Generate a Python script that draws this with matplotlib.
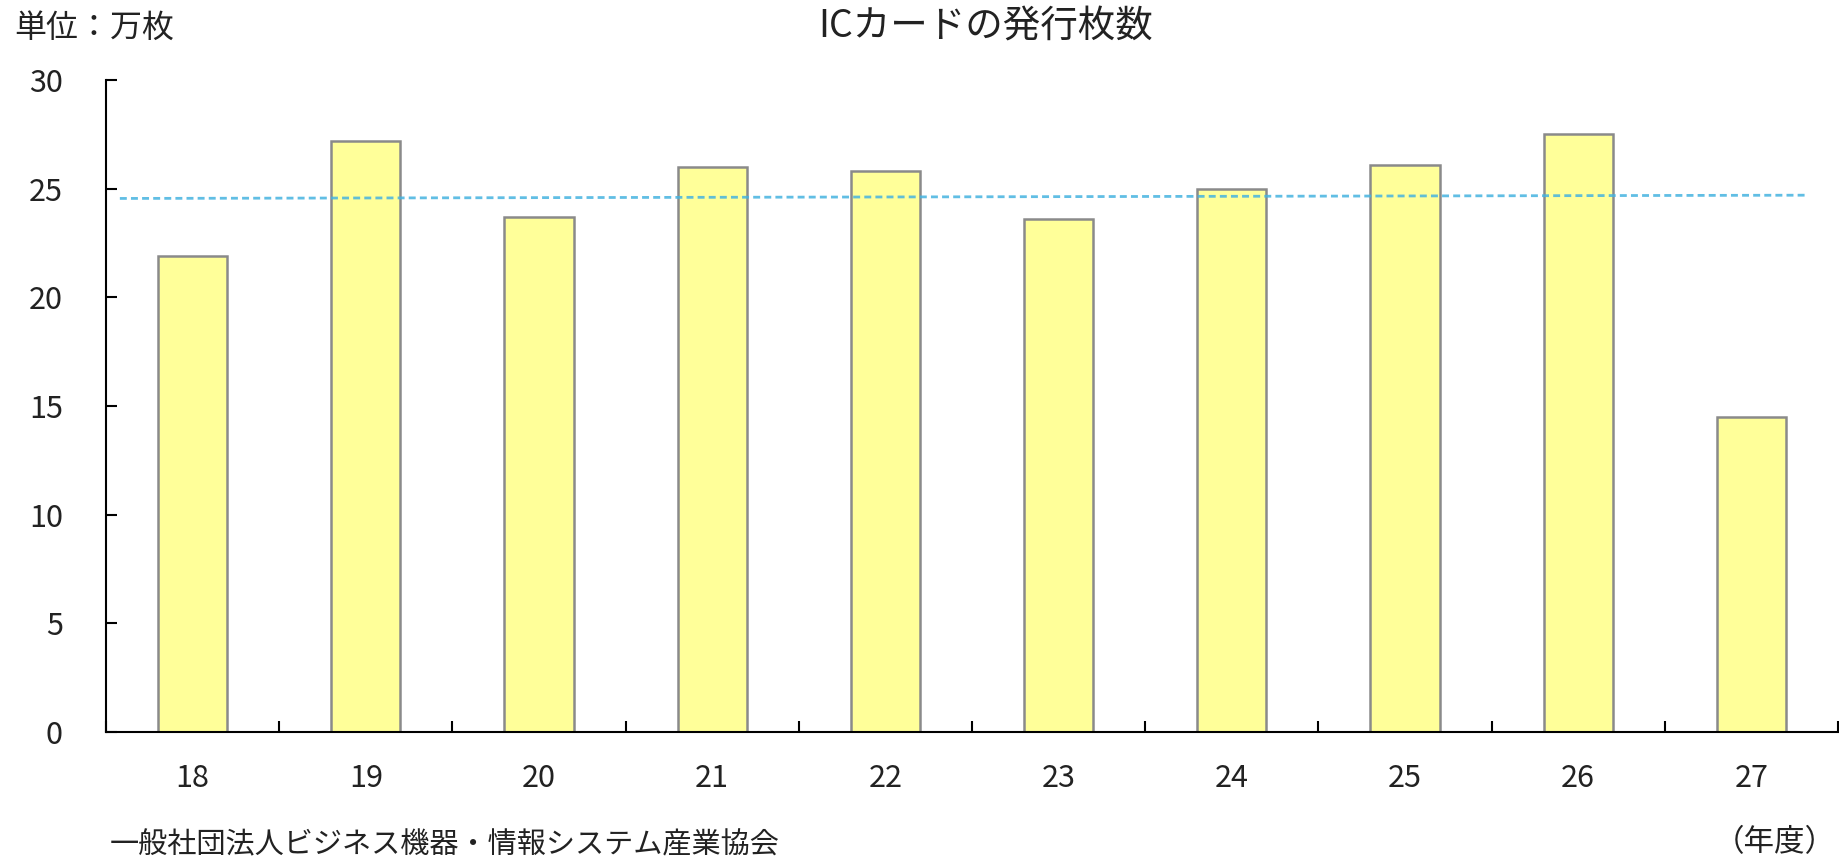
import matplotlib
matplotlib.use('Agg')
import matplotlib.pyplot as plt
import numpy as np

plt.rcParams['font.family'] = ['Noto Sans CJK JP', 'DejaVu Sans']

# data
years = ['18', '19', '20', '21', '22', '23', '24', '25', '26', '27']
cards = [21.9, 27.2, 23.7, 26.0, 25.8, 23.6, 25.0, 26.1, 27.5, 14.5]

# the thin dotted reference line (start / end)
ref_x = [-0.42, 9.33]
ref_y = [24.55, 24.70]

fig = plt.figure(figsize=(18.39, 8.59), dpi=100)
ax = fig.add_axes([106 / 1839, 127 / 859, 1732 / 1839, 652 / 859])

x = np.arange(len(years))
ax.bar(x, cards, width=0.4, color='#FFFF99', edgecolor='#8a8a8a', linewidth=1.8, zorder=2)
ax.plot(ref_x, ref_y, color='#45B3E0', linewidth=2.0, dashes=(2.5, 1.5), alpha=0.85, zorder=3)

ax.set_xlim(-0.5, len(years) - 0.5)
ax.set_ylim(0, 30)
ax.set_yticks(np.arange(0, 31, 5))

# category labels centred, tick marks between categories
ax.set_xticks(x)
ax.set_xticklabels(years)
ax.tick_params(axis='x', which='major', length=0, pad=22, labelsize=22, colors='#222222')
ax.set_xticks(np.arange(-0.5, len(years), 1.0), minor=True)
ax.tick_params(axis='x', which='minor', direction='in', length=8, width=1.5, color='black')
ax.tick_params(axis='y', direction='in', length=8, width=1.5, pad=31, labelsize=22,
               colors='black', labelcolor='#222222')

for s in ['top', 'right']:
    ax.spines[s].set_visible(False)
for s in ['left', 'bottom']:
    ax.spines[s].set_linewidth(1.5)
    ax.spines[s].set_color('black')

fig.text(986 / 1839, 1 - 26 / 859, 'ICカードの発行枚数', ha='center', va='center', fontsize=27, color='#222222')
fig.text(14 / 1839, 1 - 28 / 859, '単位：万枚', ha='left', va='center', fontsize=23, color='#222222')
fig.text(110 / 1839, 1 - 845 / 859, '一般社団法人ビジネス機器・情報システム産業協会',
         ha='left', va='center', fontsize=21, color='#222222')
fig.text(1714 / 1839, 1 - 843 / 859, '（年度）', ha='left', va='center', fontsize=22, color='#222222')

fig.savefig('out.png', dpi=100)
